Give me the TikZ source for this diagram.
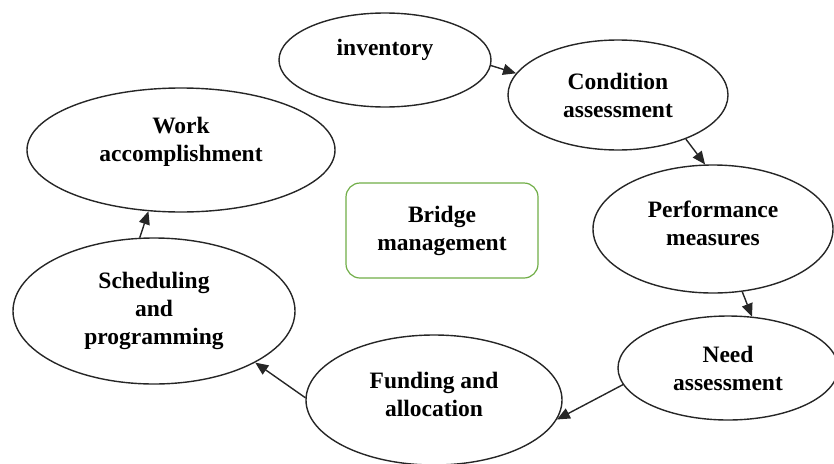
\documentclass[tikz,border=0pt]{standalone}
\usepackage{fontspec}
\setmainfont{Liberation Serif}
\usetikzlibrary{shapes.geometric,arrows.meta}
\definecolor{boxgreen}{RGB}{112,173,71}
\begin{document}
\begin{tikzpicture}[x=1pt,y=-1pt,
  el/.style={draw=black!85, line width=1.4pt, ellipse, inner sep=0pt},
  txt/.style={font=\fontsize{23.5}{28}\selectfont\bfseries, align=center, text=black},
  arr/.style={draw=black!85, line width=1.4pt, -{Triangle[length=13pt,width=11pt]}}]
\useasboundingbox (0,0) rectangle (834,463);
\clip (0,0) rectangle (834,463);
\node[el, minimum width=212, minimum height=94, label={[txt,yshift=10]center:inventory}] (inv) at (385,60) {};
\node[el, minimum width=220, minimum height=110, label={[txt]center:Condition\\assessment}] (cond) at (618,95) {};
\node[el, minimum width=240, minimum height=128, label={[txt,yshift=6]center:Performance\\measures}] (perf) at (713,229) {};
\node[el, minimum width=220, minimum height=104, label={[txt]center:Need\\assessment}] (need) at (728,368) {};
\node[el, minimum width=256, minimum height=130, label={[txt,yshift=6]center:Funding and\\allocation}] (fund) at (434,400) {};
\node[el, minimum width=282, minimum height=146, label={[txt]center:Scheduling\\and\\programming}] (sched) at (154,311) {};
\node[el, minimum width=308, minimum height=124, label={[txt,yshift=8]center:Work\\accomplishment}] (work) at (181,150) {};
\node[draw=boxgreen, line width=1.2pt, rounded corners=14pt, minimum width=192, minimum height=95, txt] (bm) at (442,230.5) {Bridge\\management};
\draw[arr] (inv.-3) -- (cond.168);
\draw[arr] (cond.-33) -- (perf.97);
\draw[arr] (perf.-65) -- (need.65);
\draw[arr] (need.189) -- (fund.-9);
\draw[arr] (fund.179) -- (sched.-27);
\draw[arr] (sched.101) -- (work.-118);
\end{tikzpicture}
\end{document}
